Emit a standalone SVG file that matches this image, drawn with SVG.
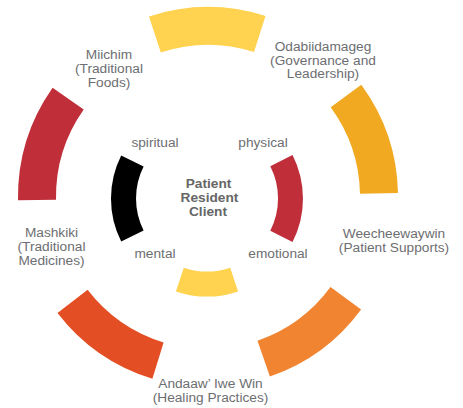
<svg xmlns="http://www.w3.org/2000/svg" width="463" height="408" viewBox="0 0 463 408">
<style>
text{font-family:"Liberation Sans",Arial,Helvetica,sans-serif;font-size:13.7px;fill:#6d6e71;text-anchor:middle}
.c{font-weight:bold;fill:#666666}
</style>
<rect width="463" height="408" fill="#ffffff"/>
<g id="outer-ring">
<path id="seg-top" fill="#ffd24f" d="M265.5,15.9 A190,190 0 0 0 149.0,16.4 L160.8,52.5 A152,152 0 0 1 254.0,52.1 Z"/>
<path id="seg-upper-right" fill="#f2a922" d="M398.0,193.0 A190,190 0 0 0 361.3,84.8 L330.7,107.2 A152,152 0 0 1 360.0,193.8 Z"/>
<path id="seg-lower-right" fill="#f08430" d="M269.9,376.6 A190,190 0 0 0 361.1,309.5 L330.5,287.0 A152,152 0 0 1 257.5,340.7 Z"/>
<path id="seg-lower-left" fill="#e44e25" d="M57.5,312.9 A190,190 0 0 0 152.4,378.7 L163.6,342.4 A152,152 0 0 1 87.6,289.7 Z"/>
<path id="seg-upper-left" fill="#bf2e39" d="M52.6,87.8 A190,190 0 0 0 18.0,200.3 L56.0,199.7 A152,152 0 0 1 83.7,109.6 Z"/>
</g>
<g id="inner-ring">
<path id="seg-black" fill="#000000" d="M121.2,155.4 A96,96 0 0 0 121.2,241.6 L143.6,230.4 A71,71 0 0 1 143.6,166.6 Z"/>
<path id="seg-red" fill="#bf2e39" d="M292.5,242.1 A96,96 0 0 0 292.5,154.9 L270.3,166.3 A71,71 0 0 1 270.3,230.7 Z"/>
<path id="seg-yellow" fill="#ffd24f" d="M175.9,291.4 A98,98 0 0 0 238.1,291.4 L230.2,267.7 A73,73 0 0 1 183.8,267.7 Z"/>
</g>
<g id="miichim"><text x="109" y="59.3">Miichim</text><text x="109" y="73.3">(Traditional</text><text x="109" y="87.3">Foods)</text></g>
<g id="odabiidamageg"><text x="323" y="51">Odabiidamageg</text><text x="323" y="64.5">(Governance and</text><text x="323" y="78">Leadership)</text></g>
<g id="weecheewaywin"><text x="394" y="238">Weecheewaywin</text><text x="394" y="252">(Patient Supports)</text></g>
<g id="andaaw-iwe-win"><text x="210.5" y="388">Andaaw’ Iwe Win</text><text x="210.5" y="402">(Healing Practices)</text></g>
<g id="mashkiki"><text x="51.5" y="237">Mashkiki</text><text x="51.5" y="251">(Traditional</text><text x="51.5" y="265">Medicines)</text></g>
<g id="spiritual"><text x="155" y="147">spiritual</text></g>
<g id="physical"><text x="263" y="147">physical</text></g>
<g id="mental"><text x="155" y="257.5">mental</text></g>
<g id="emotional"><text x="278" y="257.5">emotional</text></g>
<g id="center"><text class="c" x="208.5" y="188">Patient</text><text class="c" x="209.5" y="202">Resident</text><text class="c" x="208" y="216">Client</text></g>
</svg>
